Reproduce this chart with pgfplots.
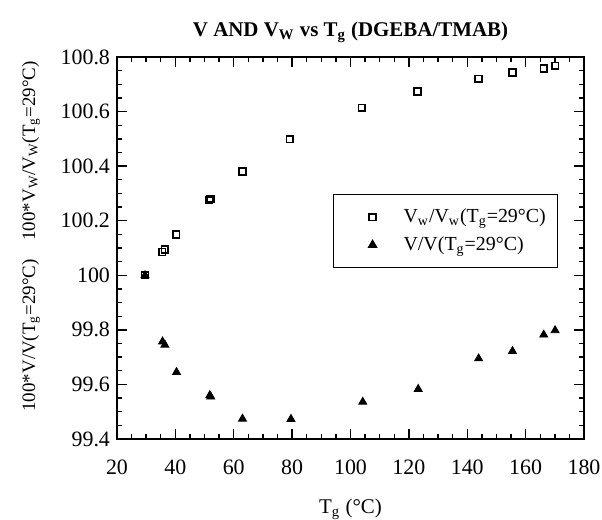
\documentclass[border=0pt]{standalone}
\usepackage{fontspec}
\setmainfont{Liberation Serif}
\usepackage{pgfplots}
\pgfplotsset{compat=1.18}
\begin{document}
\begin{tikzpicture}
\begin{axis}[
  scale only axis, width=233.5bp, height=191bp,
  xmin=20, xmax=180, ymin=99.4, ymax=100.8,
  xtick={20,40,60,80,100,120,140,160,180},
  ytick={99.4,99.6,99.8,100,100.2,100.4,100.6,100.8},
  minor x tick num=3, minor y tick num=3,
  tick align=inside, xtick pos=both, ytick pos=both,
  major tick length=5bp, minor tick length=2.5bp,
  every tick/.style={black, line width=0.7bp},
  axis line style={line width=0.9bp},
  /pgf/number format/assume math mode=true,
  yticklabel style={/pgf/number format/fixed, /pgf/number format/precision=1},
  ticklabel style={font=\fontsize{11}{12}\selectfont},
  xticklabel style={yshift=-7bp},
  clip=false,
  legend style={at={(0.4625,0.641)}, anchor=north west, draw=black, line width=0.6bp,
    font=\fontsize{10}{12}\selectfont, inner xsep=4bp, inner ysep=5bp, row sep=1.5bp},
  legend cell align=left,
  legend image code/.code={\path[draw=none,fill=none] (0,0) -- (29bp,0); \draw[#1] plot coordinates {(15.5bp,0)};},
]
\addplot[only marks, mark=square, mark size=1.7bp, mark options={line width=0.8bp, black}] table {
29.6 100.000
35.5 100.085
36.4 100.095
40.3 100.149
51.6 100.275
52.0 100.280
63.0 100.380
79.2 100.499
103.9 100.614
123.0 100.674
143.9 100.720
155.5 100.743
166.2 100.758
170.1 100.768
};
\addlegendentry{V\textsubscript{w}/V\textsubscript{w}(T\textsubscript{g}=29°C)}
\addplot[only marks, mark=triangle*, mark size=2.3bp, mark options={black}] table {
29.6 100.0
35.6 99.757
36.4 99.745
40.4 99.645
51.8 99.560
52.1 99.555
63.0 99.474
79.6 99.473
104.2 99.536
123.2 99.583
143.9 99.695
155.5 99.722
166.2 99.782
170.1 99.798
};
\addlegendentry{V/V(T\textsubscript{g}=29°C)}
\node[rotate=90, font=\fontsize{9.5}{11}\selectfont] at ([xshift=-43bp]rel axis cs:0,0.754) {100*V\textsubscript{W}/V\textsubscript{W}(T\textsubscript{g}=29°C)};
\node[rotate=90, font=\fontsize{9.5}{11}\selectfont] at ([xshift=-43bp]rel axis cs:0,0.271) {100*V/V(T\textsubscript{g}=29°C)};
\node[font=\bfseries\fontsize{10.5}{12}\selectfont] at ([yshift=12.5bp]rel axis cs:0.5,1) {V AND V\textsubscript{W} vs T\textsubscript{g} (DGEBA/TMAB)};
\node[font=\fontsize{10.5}{12}\selectfont] at ([yshift=-35bp]rel axis cs:0.5,0) {T\textsubscript{g} (°C)};
\end{axis}
\pgfresetboundingbox
\path[use as bounding box] (current axis.south west) ++(-58.5bp,-40.5bp) rectangle ++(301bp,260bp);
\end{tikzpicture}
\end{document}
